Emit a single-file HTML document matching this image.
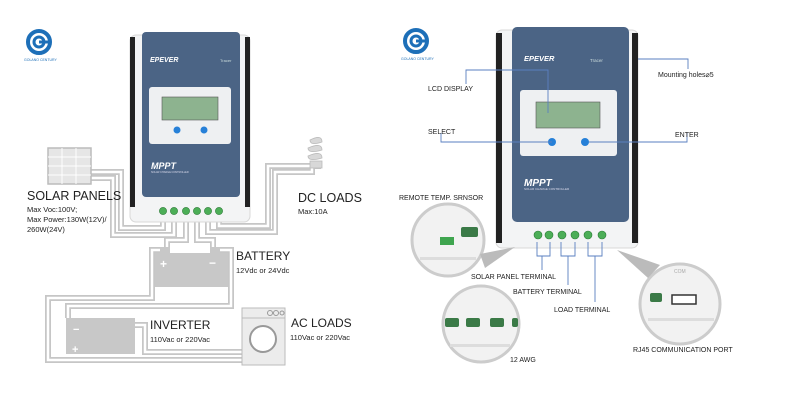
<!DOCTYPE html>
<html><head><meta charset="utf-8"><style>
html,body{margin:0;padding:0;background:#fff;}
svg{display:block;font-family:"Liberation Sans",sans-serif;}
</style></head><body>
<svg width="792" height="400" viewBox="0 0 792 400" xmlns="http://www.w3.org/2000/svg">
<defs>
<g id="logo">
<circle cx="0" cy="0" r="11" fill="none" stroke="#1d6fb8" stroke-width="4"/>
<circle cx="0" cy="0" r="5" fill="none" stroke="#1d6fb8" stroke-width="3"/>
<rect x="0" y="-1.5" width="12" height="3" fill="#1d6fb8"/>
<text x="-15" y="19" font-size="3.5" fill="#1d6fb8">GOLANO CENTURY</text>
</g>
</defs>
<use href="#logo" x="39" y="42"/>
<use href="#logo" x="416" y="41"/>

<!-- LEFT wires -->
<g fill="none" stroke-linejoin="miter">
<g stroke="#c6c6c6" stroke-width="6">
<path d="M91 172 H121 V228 H163 V215"/>
<path d="M91 178 H113 V235 H174 V215"/>
<path d="M186 215 V240 H167 V250"/>
<path d="M197 215 V240 H213 V250"/>
<path d="M208 215 V232 H275 V172 H312 V165"/>
<path d="M219 215 V226 H268 V166 H318 V165"/>
<path d="M162 250 H152 V298 H48 V360 H243"/>
<path d="M218 250 H231 V306 H68 V318"/>
<path d="M135 325 H145 V352 H243"/>
</g>
<g stroke="#fff" stroke-width="2.5">
<path d="M91 172 H121 V228 H163 V215"/>
<path d="M91 178 H113 V235 H174 V215"/>
<path d="M186 215 V240 H167 V250"/>
<path d="M197 215 V240 H213 V250"/>
<path d="M208 215 V232 H275 V172 H312 V165"/>
<path d="M219 215 V226 H268 V166 H318 V165"/>
<path d="M162 250 H152 V298 H48 V360 H243"/>
<path d="M218 250 H231 V306 H68 V318"/>
<path d="M135 325 H145 V352 H243"/>
</g>
</g>

<!-- solar panel -->
<rect x="48" y="148" width="43" height="36" fill="#e6e6e6" stroke="#bbb" stroke-width="1.5"/>
<g stroke="#fff" stroke-width="1"><path d="M62 148V184M76 148V184M48 157H91M48 166H91M48 175H91"/></g>

<!-- bulb -->
<g fill="#d8d8d8" stroke="#bbb" stroke-width="0.8">
<path d="M310 140 Q322 134 322 142 Q310 146 310 140Z"/>
<path d="M308 148 Q322 142 322 150 Q308 154 308 148Z"/>
<path d="M308 156 Q322 150 322 158 Q308 162 308 156Z"/>
<rect x="310" y="161" width="12" height="7"/>
</g>

<!-- battery -->
<rect x="155" y="253" width="73" height="34" fill="#c8c8c8"/>
<rect x="160" y="247" width="10" height="6" fill="#c8c8c8"/>
<rect x="210" y="247" width="10" height="6" fill="#c8c8c8"/>
<text x="160" y="268" font-size="12" fill="#fff" font-weight="bold">+</text>
<text x="209" y="267" font-size="12" fill="#fff" font-weight="bold">−</text>

<!-- inverter -->
<rect x="66" y="318" width="69" height="36" fill="#c8c8c8"/>
<text x="73" y="333" font-size="11" fill="#fff" font-weight="bold">−</text>
<text x="72" y="353" font-size="11" fill="#fff" font-weight="bold">+</text>

<!-- washer -->
<rect x="242" y="308" width="43" height="57" fill="#ececec" stroke="#bbb" stroke-width="1"/>
<line x1="242" y1="318" x2="285" y2="318" stroke="#bbb"/>
<circle cx="263" cy="339" r="13" fill="#fff" stroke="#999" stroke-width="2"/>
<circle cx="270" cy="313" r="2.5" fill="none" stroke="#999"/>
<circle cx="276" cy="313" r="2.5" fill="none" stroke="#999"/>
<circle cx="282" cy="313" r="2" fill="none" stroke="#999"/>

<!-- left device -->
<rect x="130" y="35" width="120" height="187" rx="6" fill="#f3f4f5" stroke="#d8d8d8"/>
<rect x="130" y="37" width="5" height="170" fill="#222"/>
<rect x="245" y="37" width="5" height="170" fill="#222"/>
<rect x="142" y="32" width="98" height="165" rx="4" fill="#4b6485"/>
<text x="150" y="62" font-size="7" font-style="italic" font-weight="bold" fill="#fff">EPEVER</text>
<text x="220" y="62" font-size="4" fill="#cdd">Tracer</text>
<rect x="149" y="87" width="82" height="57" rx="3" fill="#eef0f2"/>
<rect x="162" y="97" width="56" height="23" fill="#8db38f" stroke="#555" stroke-width="0.6"/>
<circle cx="177" cy="130" r="3.5" fill="#2680d8"/>
<circle cx="204" cy="130" r="3.5" fill="#2680d8"/>
<text x="151" y="169" font-size="9" font-style="italic" font-weight="bold" fill="#fff">MPPT</text>
<text x="151" y="173" font-size="2.5" fill="#dde">SOLAR CHARGE CONTROLLER</text>
<g fill="#4cae57" stroke="#2a7a35" stroke-width="0.6">
<circle cx="163" cy="211" r="3.6"/><circle cx="174" cy="211" r="3.6"/><circle cx="186" cy="211" r="3.6"/>
<circle cx="197" cy="211" r="3.6"/><circle cx="208" cy="211" r="3.6"/><circle cx="219" cy="211" r="3.6"/>
</g>

<!-- left labels -->
<g fill="#222">
<text x="27" y="200" font-size="12.5">SOLAR  PANELS</text>
<text x="27" y="212" font-size="7.5">Max  Voc:100V;</text>
<text x="27" y="222" font-size="7.5">Max  Power:130W(12V)/</text>
<text x="27" y="232" font-size="7.5">260W(24V)</text>
<text x="298" y="202" font-size="12.5">DC  LOADS</text>
<text x="298" y="214" font-size="7.5">Max:10A</text>
<text x="236" y="260" font-size="12">BATTERY</text>
<text x="236" y="273" font-size="7.5">12Vdc  or  24Vdc</text>
<text x="150" y="329" font-size="12">INVERTER</text>
<text x="150" y="342" font-size="7.5">110Vac  or  220Vac</text>
<text x="291" y="327" font-size="12">AC  LOADS</text>
<text x="290" y="340" font-size="7.5">110Vac  or  220Vac</text>
</g>

<!-- RIGHT device -->
<rect x="496" y="30" width="142" height="218" rx="6" fill="#f3f4f5" stroke="#d8d8d8"/>
<rect x="496" y="33" width="6" height="210" fill="#222"/>
<rect x="632" y="33" width="6" height="210" fill="#222"/>
<rect x="512" y="27" width="117" height="195" rx="5" fill="#4b6485"/>
<text x="524" y="61" font-size="7.5" font-style="italic" font-weight="bold" fill="#fff">EPEVER</text>
<text x="590" y="62" font-size="4.5" fill="#cdd">Tracer</text>
<rect x="520" y="90" width="97" height="66" rx="3" fill="#eef0f2"/>
<rect x="536" y="102" width="64" height="26" fill="#8db38f" stroke="#555" stroke-width="0.6"/>
<circle cx="552" cy="142" r="4" fill="#2680d8"/>
<circle cx="585" cy="142" r="4" fill="#2680d8"/>
<text x="524" y="186" font-size="10" font-style="italic" font-weight="bold" fill="#fff">MPPT</text>
<text x="524" y="190" font-size="3" fill="#dde">SOLAR CHARGE CONTROLLER</text>
<g fill="#4cae57" stroke="#2a7a35" stroke-width="0.6">
<circle cx="538" cy="235" r="4"/><circle cx="549" cy="235" r="4"/><circle cx="562" cy="235" r="4"/>
<circle cx="575" cy="235" r="4"/><circle cx="588" cy="235" r="4"/><circle cx="602" cy="235" r="4"/>
</g>

<!-- callout lines -->
<g fill="none" stroke="#5a7fc0" stroke-width="0.9">
<path d="M466 84 V70 H548 V113"/>
<path d="M441 133 V142 H552"/>
<path d="M589 142 H687 V133"/>
<path d="M638 59 H688 V69"/>
<path d="M537 242 V256 H550 V242 M542 256 V270"/>
<path d="M561 242 V256 H575 V242 M568 256 V285"/>
<path d="M588 242 V256 H602 V242 M595 256 V302"/>
</g>

<!-- circles -->
<g fill="#f2f2f2" stroke="#ccc" stroke-width="3">
<circle cx="448" cy="240" r="36"/>
<circle cx="481" cy="324" r="38"/>
<circle cx="680" cy="304" r="40"/>
</g>
<path d="M480 254 L515 247 L485 268Z" fill="#bbb"/>
<path d="M617 250 L660 265 L648 278Z" fill="#bbb"/>
<rect x="440" y="237" width="14" height="8" fill="#3fa54f"/>
<rect x="461" y="227" width="17" height="10" rx="2" fill="#3b7a47"/>
<rect x="420" y="257" width="56" height="3" fill="#ddd"/>
<g fill="#3b7a47"><rect x="445" y="318" width="14" height="9" rx="2"/><rect x="466" y="318" width="14" height="9" rx="2"/><rect x="490" y="318" width="14" height="9" rx="2"/><rect x="512" y="318" width="6" height="9" rx="2"/></g>
<rect x="450" y="344" width="60" height="3" fill="#ddd"/>
<rect x="650" y="293" width="12" height="9" rx="2" fill="#3b7a47"/>
<rect x="672" y="295" width="24" height="9" fill="#fff" stroke="#333" stroke-width="1.5"/>
<rect x="648" y="318" width="66" height="3" fill="#ddd"/>
<text x="674" y="273" font-size="5" fill="#aaa">COM</text>

<!-- right labels -->
<g fill="#222" font-size="7">
<text x="428" y="91">LCD  DISPLAY</text>
<text x="428" y="134">SELECT</text>
<text x="675" y="137">ENTER</text>
<text x="658" y="77">Mounting  holes⌀5</text>
<text x="399" y="200">REMOTE TEMP. SRNSOR</text>
<text x="471" y="279">SOLAR PANEL TERMINAL</text>
<text x="513" y="294">BATTERY  TERMINAL</text>
<text x="554" y="312">LOAD  TERMINAL</text>
<text x="633" y="352">RJ45  COMMUNICATION  PORT</text>
<text x="510" y="362">12  AWG</text>
</g>
</svg>
</body></html>
